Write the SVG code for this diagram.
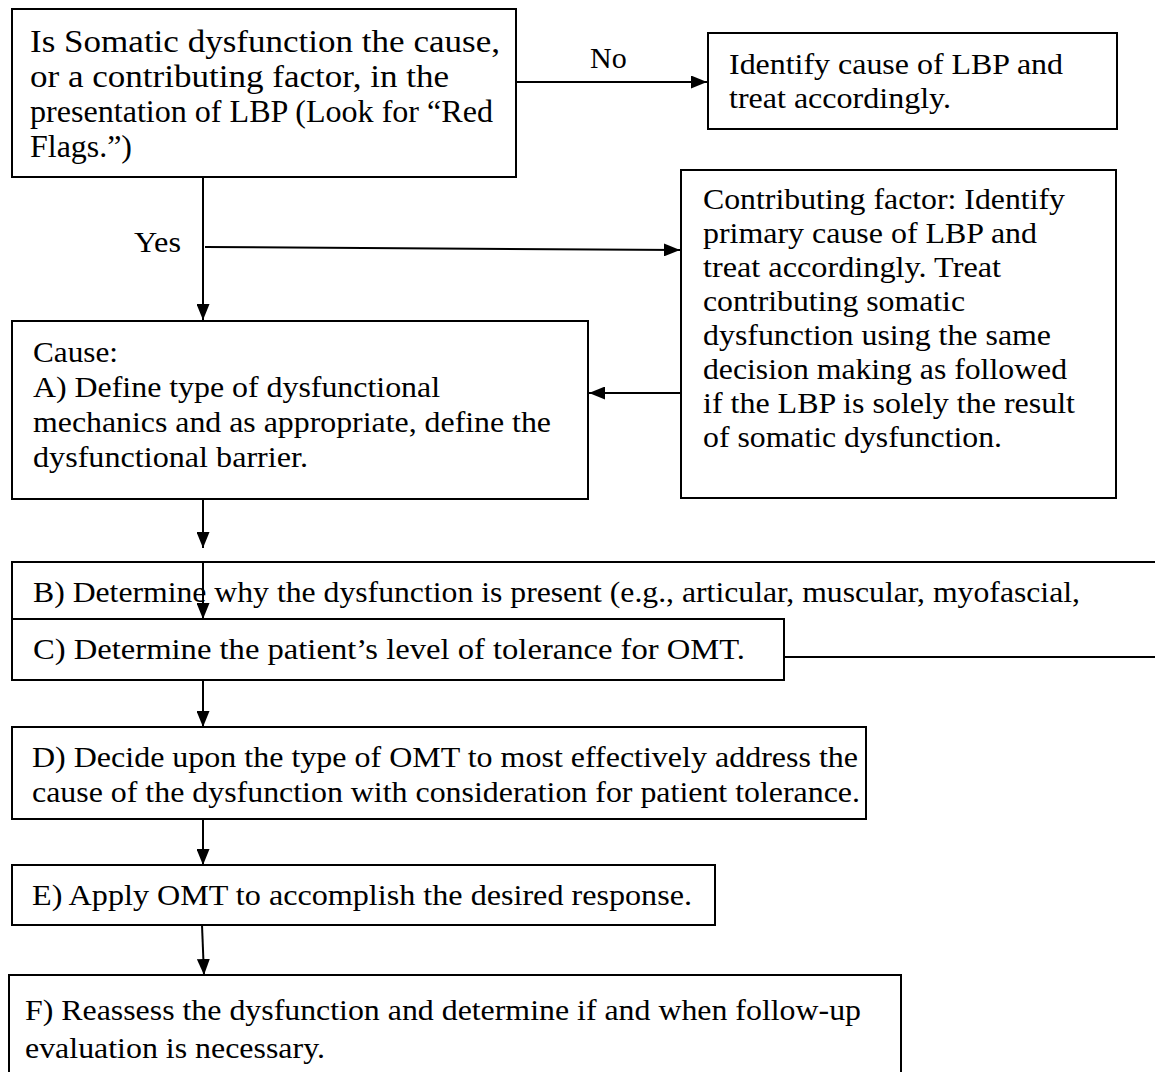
<svg xmlns="http://www.w3.org/2000/svg" width="1155" height="1072" viewBox="0 0 1155 1072">
<defs>
<style>
.box{fill:#fff;stroke:#000;stroke-width:2}
.t{font-family:"Liberation Serif","Times New Roman",serif;font-size:30px;fill:#000}
.t1{font-family:"Liberation Serif","Times New Roman",serif;font-size:31px;fill:#000}
.c{stroke:#000;stroke-width:2;fill:none}
</style>
<marker id="ah" markerWidth="16" markerHeight="13" refX="16" refY="6.5" orient="auto" markerUnits="userSpaceOnUse" viewBox="0 0 16 13">
<path d="M0,0 L16,6.5 L0,13 z" fill="#000"/>
</marker>
</defs>
<rect width="1155" height="1072" fill="#fff"/>
<g id="connectors">
<line class="c" x1="516" y1="82" x2="707" y2="82" marker-end="url(#ah)"/>
<line class="c" x1="203" y1="177" x2="203" y2="320" marker-end="url(#ah)"/>
<line class="c" x1="205" y1="247" x2="680" y2="250" marker-end="url(#ah)"/>
<line class="c" x1="680" y1="393" x2="589" y2="393" marker-end="url(#ah)"/>
<line class="c" x1="203" y1="490" x2="203" y2="548" marker-end="url(#ah)"/>
</g>
<g id="n1"><rect class="box" x="12" y="9" width="504" height="168"/>
<text class="t1" x="30" y="52" textLength="470" lengthAdjust="spacingAndGlyphs">Is Somatic dysfunction the cause,</text>
<text class="t1" x="30" y="87" textLength="419" lengthAdjust="spacingAndGlyphs">or a contributing factor, in the</text>
<text class="t1" x="30" y="122" textLength="463" lengthAdjust="spacingAndGlyphs">presentation of LBP (Look for “Red</text>
<text class="t1" x="30" y="157" textLength="102" lengthAdjust="spacingAndGlyphs">Flags.”)</text></g>
<text id="lblNo" class="t" x="590" y="68">No</text>
<text id="lblYes" class="t" x="134" y="252" textLength="47" lengthAdjust="spacingAndGlyphs">Yes</text>
<g id="n2"><rect class="box" x="708" y="33" width="409" height="96"/>
<text class="t" x="729" y="74" textLength="334" lengthAdjust="spacingAndGlyphs">Identify cause of LBP and</text>
<text class="t" x="729" y="108" textLength="222" lengthAdjust="spacingAndGlyphs">treat accordingly.</text></g>
<g id="n3"><rect class="box" x="681" y="170" width="435" height="328"/>
<text class="t" x="703" y="209" textLength="362" lengthAdjust="spacingAndGlyphs">Contributing factor: Identify</text>
<text class="t" x="703" y="243" textLength="334" lengthAdjust="spacingAndGlyphs">primary cause of LBP and</text>
<text class="t" x="703" y="277" textLength="298" lengthAdjust="spacingAndGlyphs">treat accordingly. Treat</text>
<text class="t" x="703" y="311" textLength="262" lengthAdjust="spacingAndGlyphs">contributing somatic</text>
<text class="t" x="703" y="345" textLength="348" lengthAdjust="spacingAndGlyphs">dysfunction using the same</text>
<text class="t" x="703" y="379" textLength="364" lengthAdjust="spacingAndGlyphs">decision making as followed</text>
<text class="t" x="703" y="413" textLength="372" lengthAdjust="spacingAndGlyphs">if the LBP is solely the result</text>
<text class="t" x="703" y="447" textLength="299" lengthAdjust="spacingAndGlyphs">of somatic dysfunction.</text></g>
<g id="n4"><rect class="box" x="12" y="321" width="576" height="178"/>
<text class="t" x="33" y="362" textLength="85" lengthAdjust="spacingAndGlyphs">Cause:</text>
<text class="t" x="33" y="397" textLength="407" lengthAdjust="spacingAndGlyphs">A) Define type of dysfunctional</text>
<text class="t" x="33" y="432" textLength="518" lengthAdjust="spacingAndGlyphs">mechanics and as appropriate, define the</text>
<text class="t" x="33" y="467" textLength="275" lengthAdjust="spacingAndGlyphs">dysfunctional barrier.</text></g>
<g id="n5"><rect class="box" x="12" y="562" width="1160" height="95"/>
<text class="t" x="33" y="602" textLength="1047" lengthAdjust="spacingAndGlyphs">B) Determine why the dysfunction is present (e.g., articular, muscular, myofascial,</text></g>
<line class="c" x1="203" y1="562" x2="203" y2="619" marker-end="url(#ah)"/>
<g id="n6"><rect class="box" x="12" y="619" width="772" height="61"/>
<text class="t" x="33" y="659" textLength="712" lengthAdjust="spacingAndGlyphs">C) Determine the patient’s level of tolerance for OMT.</text></g>
<g id="connectors2">
<line class="c" x1="203" y1="680" x2="203" y2="727" marker-end="url(#ah)"/>
<line class="c" x1="203" y1="820" x2="203" y2="865" marker-end="url(#ah)"/>
<line class="c" x1="202" y1="925" x2="204" y2="975" marker-end="url(#ah)"/>
</g>
<g id="n7"><rect class="box" x="12" y="727" width="854" height="92"/>
<text class="t" x="32" y="767" textLength="826" lengthAdjust="spacingAndGlyphs">D) Decide upon the type of OMT to most effectively address the</text>
<text class="t" x="32" y="802" textLength="828" lengthAdjust="spacingAndGlyphs">cause of the dysfunction with consideration for patient tolerance.</text></g>
<g id="n8"><rect class="box" x="12" y="865" width="703" height="60"/>
<text class="t" x="32" y="905" textLength="660" lengthAdjust="spacingAndGlyphs">E) Apply OMT to accomplish the desired response.</text></g>
<g id="n9"><rect class="box" x="9" y="975" width="892" height="110"/>
<text class="t" x="25" y="1020" textLength="836" lengthAdjust="spacingAndGlyphs">F) Reassess the dysfunction and determine if and when follow-up</text>
<text class="t" x="25" y="1058" textLength="300" lengthAdjust="spacingAndGlyphs">evaluation is necessary.</text></g>
</svg>
